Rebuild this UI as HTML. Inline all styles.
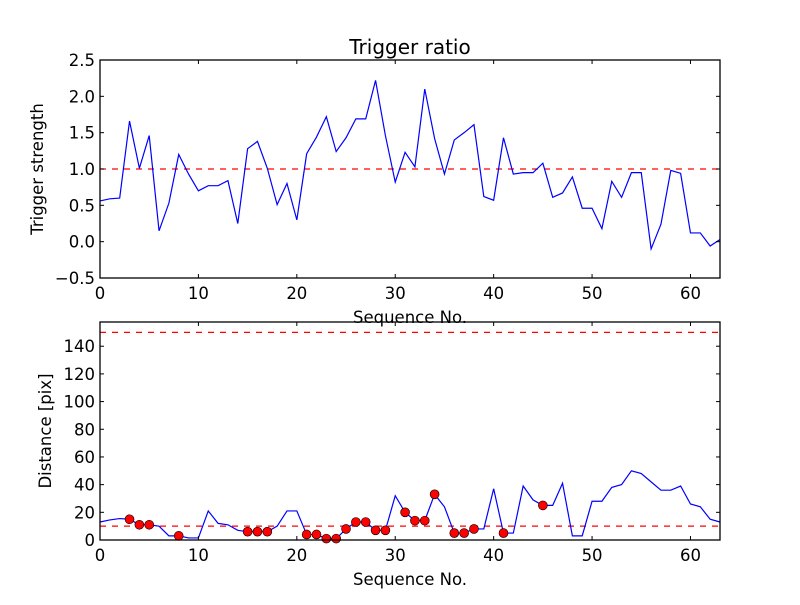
<!DOCTYPE html>
<html><head><meta charset="utf-8"><style>
body{margin:0;background:#fff}
svg{font-family:"DejaVu Sans","Liberation Sans",sans-serif}
</style></head><body>
<svg id="chart" width="800" height="600" xmlns="http://www.w3.org/2000/svg">
<rect width="800" height="600" fill="#fff"/>
<g id="top"></g>
<g id="bot"></g>
</svg>
<script>
const seq = Array.from({length:64},(_,i)=>i);
const trigger = [0.56,0.59,0.60,1.66,1.01,1.46,0.15,0.53,1.20,0.93,0.70,0.77,0.77,0.84,0.25,1.28,1.38,1.01,0.51,0.80,0.30,1.21,1.44,1.72,1.24,1.43,1.69,1.69,2.22,1.46,0.82,1.23,1.03,2.10,1.42,0.93,1.40,1.50,1.61,0.62,0.57,1.43,0.93,0.95,0.95,1.08,0.61,0.67,0.89,0.46,0.46,0.18,0.83,0.61,0.95,0.95,-0.10,0.24,0.98,0.94,0.12,0.12,-0.06,0.03];
const distance = [13,14.5,15.5,15,11,11,10,3,3,1.5,1.5,21,12,11,7,6,6,6,10,21,21,4,4,1,1,8,13,13,7,7,32,20,14,14,33,24,5,5,8,8,37,5,5,39,29,25,25,41,3,3,28,28,38,40,50,48,42,36,36,39,26,24,15,13];
const topTicksY = [-0.5,0.0,0.5,1.0,1.5,2.0,2.5];
const topTickLabels = ["\u22120.5","0.0","0.5","1.0","1.5","2.0","2.5"];
const botTicksY = [0,20,40,60,80,100,120,140];
const xTicks = [0,10,20,30,40,50,60];
const triggerThreshold = 1.0;
const distanceThresholds = [10,150];

const NS="http://www.w3.org/2000/svg";
function mk(parent,tag,attrs,txt){const e=document.createElementNS(NS,tag);for(const k in attrs)e.setAttribute(k,attrs[k]);if(txt!==undefined)e.textContent=txt;parent.appendChild(e);return e;}
const X0=100,X1=720,xmin=0,xmax=63;
const xs=v=>X0+(v-xmin)/(xmax-xmin)*(X1-X0);
const FS=16.5;

function axes(g,Y0,Y1,ys,ticks,labels,ylab){
  const f=mk(g,'rect',{x:X0,y:Y0,width:X1-X0,height:Y1-Y0,fill:'none',stroke:'#000','stroke-width':1.3});
  
  xTicks.forEach(t=>{const x=xs(t);
    const a=mk(g,'line',{x1:x,x2:x,y1:Y1,y2:Y1-4,stroke:'#000'});
    const b=mk(g,'line',{x1:x,x2:x,y1:Y0,y2:Y0+4,stroke:'#000'});
    const l=mk(g,'text',{x:x,y:Y1+21,'font-size':FS,'text-anchor':'middle'},String(t));});
  ticks.forEach((t,i)=>{const y=ys(t);
    const a=mk(g,'line',{x1:X0,x2:X0+4,y1:y,y2:y,stroke:'#000'});
    const b=mk(g,'line',{x1:X1,x2:X1-4,y1:y,y2:y,stroke:'#000'});
    const l=mk(g,'text',{x:X0-5,y:y+6,'font-size':FS,'text-anchor':'end'},labels?labels[i]:String(t));});
  const xl=mk(g,'text',{x:(X0+X1)/2,y:Y1+45,'font-size':FS,'text-anchor':'middle'},'Sequence No.');
  const cy=(Y0+Y1)/2;
  const yl=mk(g,'text',{x:0,y:0,'font-size':FS,'text-anchor':'middle',transform:`translate(${ylab[1]},${cy}) rotate(-90)`},ylab[0]);
}
function hline(g,ys,v){const y=ys(v);const l=mk(g,'line',{x1:X0,x2:X1,y1:y,y2:y,stroke:'#ff0000','stroke-dasharray':'6,6','stroke-width':1.2});}
function series(g,ys,vals){const p=vals.map((v,i)=>(i?'L':'M')+xs(seq[i]).toFixed(2)+','+ys(v).toFixed(2)).join('');
  const l=mk(g,'path',{d:p,fill:'none',stroke:'#0000ff','stroke-width':1.2});}

const gt=document.getElementById('top');
const T0=60,T1=278,ysT=v=>T1-(v+0.5)/3*(T1-T0);
hline(gt,ysT,triggerThreshold);
series(gt,ysT,trigger);
axes(gt,T0,T1,ysT,topTicksY,topTickLabels,['Trigger strength',43]);
const ti=mk(gt,'text',{x:410,y:54,'font-size':20,'text-anchor':'middle'},'Trigger ratio');

const gb=document.getElementById('bot');
const B0=322,B1=540,ysB=v=>B1-v/157.5*(B1-B0);
distanceThresholds.forEach(v=>hline(gb,ysB,v));
series(gb,ysB,distance);
distance.forEach((d,i)=>{if(trigger[i]>=triggerThreshold){const c=mk(gb,'circle',{cx:xs(seq[i]),cy:ysB(d),r:4.5,fill:'#ff0000',stroke:'#000','stroke-width':0.6});}});
axes(gb,B0,B1,ysB,botTicksY,null,['Distance [pix]',51]);
</script>
</body></html>
